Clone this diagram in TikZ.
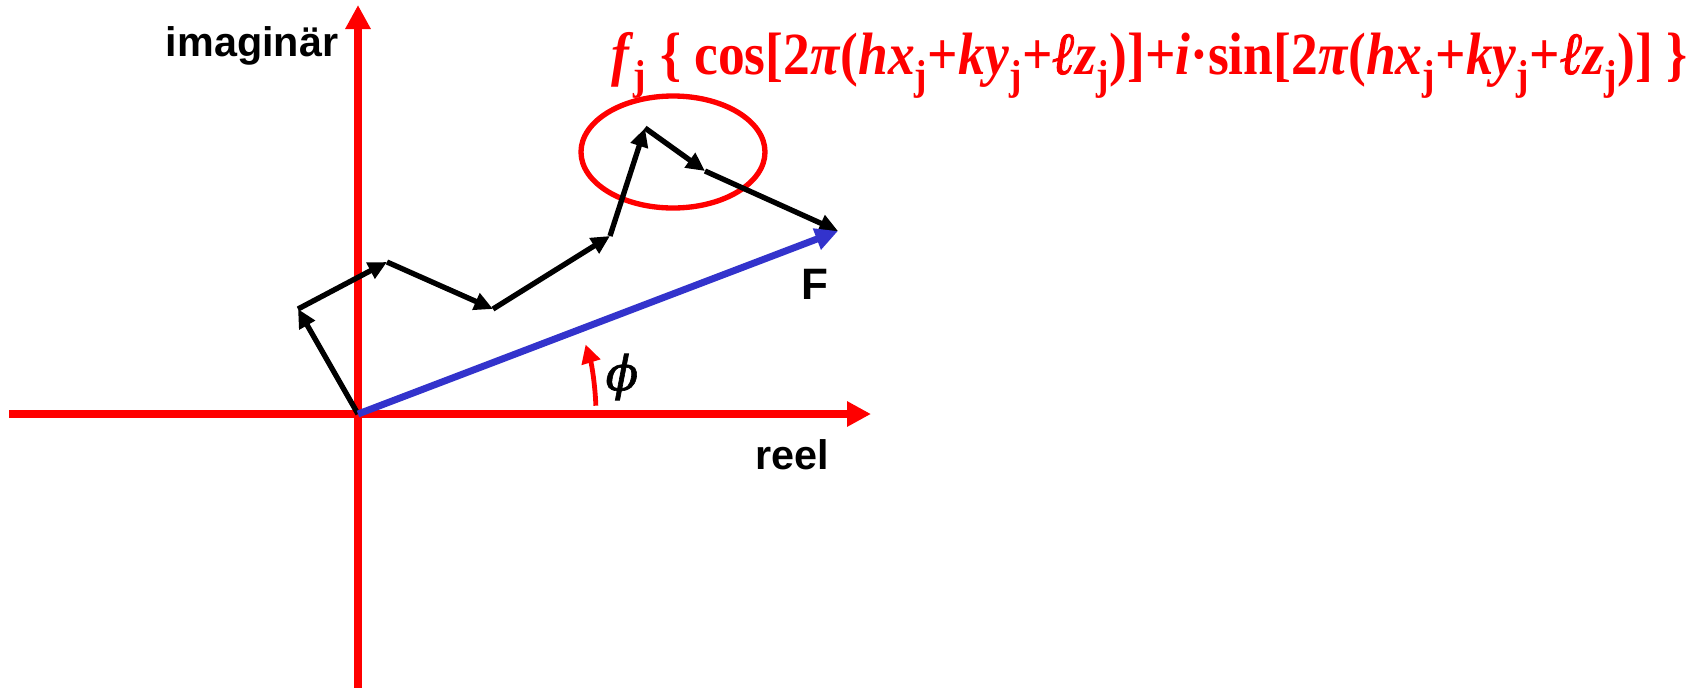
\documentclass[tikz,border=0pt]{standalone}
\usepackage{fontspec}
\setmainfont{Liberation Serif}
\setsansfont{Liberation Sans}
\newfontfamily\ellfont[FakeBold=1.6]{Liberation Serif}
\newfontfamily\phifont[FakeBold=1.3]{DejaVu Serif}
\usetikzlibrary{arrows.meta,shapes.geometric}
\newcommand{\subj}{\textsubscript{j}}
\newcommand{\myell}{{\ellfont\itshape ℓ}}
\begin{document}
\begin{tikzpicture}[x=0.75pt,y=-0.75pt,
  axisline/.style={red, line width=5.3pt, -{Triangle[length=18pt,width=18pt]}},
  vec/.style={black, line width=4pt, -{Triangle[length=14pt,width=13pt]}},
  resvec/.style={draw={rgb,255:red,51;green,51;blue,204}, line width=5.2pt, -{Triangle[length=17pt,width=16pt]}},
  lab/.style={font=\sffamily\bfseries\fontsize{31}{37}\selectfont, inner sep=0pt, text=black},
  formula/.style={font=\bfseries\fontsize{39}{46}\selectfont, text=red, inner sep=0pt, anchor=base west, xscale=1.028, yscale=1.15},
]
\useasboundingbox (0,0) rectangle (1700,687);
% axes
\coordinate (xl) at (9,414);
\coordinate (xr) at (871,414);
\coordinate (yb) at (358,690);
\coordinate (yt) at (358,5);
\coordinate (O) at (358,414);
\draw[axisline] (xl) -- (xr);
\draw[axisline] (yb) -- (yt);
% labels
\node[lab] (im) at (252,46) {imaginär};
\node[lab] (re) at (792,455) {reel};
\node[lab, font=\sffamily\bfseries\fontsize{33}{40}\selectfont] (F) at (815,284) {F};
% ellipse
\node[ellipse, draw=red, line width=4pt, minimum width=138pt, minimum height=84pt, inner sep=0pt] (ell) at (673,152) {};
% vector chain
\coordinate (P1) at (298,309);
\coordinate (P2) at (387,262);
\coordinate (P3) at (493,309);
\coordinate (P4) at (610,236);
\coordinate (P5) at (645,128);
\coordinate (P6) at (705,171);
\coordinate (P7) at (838,231);
\draw[vec] (O) -- (P1);
\draw[vec] (P1) -- (P2);
\draw[vec] (P2) -- (P3);
\draw[vec] (P3) -- (P4);
\draw[vec] (P4) -- (P5);
\draw[vec] (P5) -- (P6);
\draw[vec] (P6) -- (P7);
\draw[resvec] (O) -- (P7);
% phase angle
\draw[red, line width=3.6pt, -{Triangle[length=14pt,width=14pt]}] ([shift={(-2:238)}]O) arc[start angle=-2, end angle=-17, radius=238];
\node[inner sep=0pt, font=\phifont\itshape\fontsize{36}{40}\selectfont] (phi) at (622,377) {ϕ};
% formula
\node[formula] (form) at (611,74) {\textit{f}\subj\ \{ cos[2\textit{π}(\textit{hx}\subj+\textit{ky}\subj+\myell\textit{z}\subj)]+\textit{i}·sin[2\textit{π}(\textit{hx}\subj+\textit{ky}\subj+\myell\textit{z}\subj)] \}};
\end{tikzpicture}
\end{document}
